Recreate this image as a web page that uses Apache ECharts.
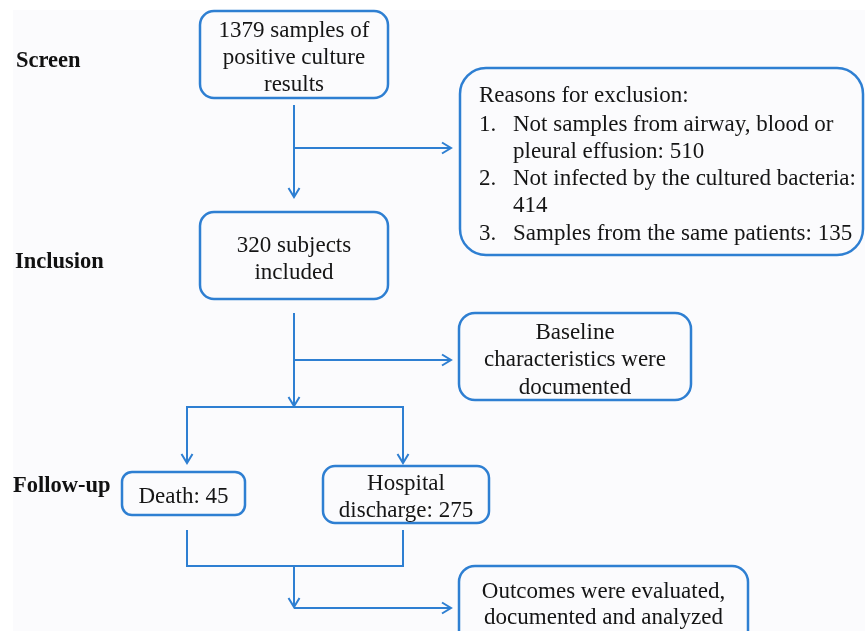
<!DOCTYPE html>
<html>
<head>
<meta charset="utf-8">
<script src="https://cdn.jsdelivr.net/npm/echarts@6/dist/echarts.min.js"></script>
<style>
html, body { margin: 0; padding: 0; background: #ffffff; }
#flow { width: 865px; height: 631px; }
</style>
</head>
<body>
<div id="flow"></div>
<script>
// stage labels on the left
var stageLabels = ['Screen', 'Inclusion', 'Follow-up'];

// box texts
var screenText = ['1379 samples of', 'positive culture', 'results'];
var includedText = ['320 subjects', 'included'];
var baselineText = ['Baseline', 'characteristics were', 'documented'];
var deathText = ['Death: 45'];
var dischargeText = ['Hospital', 'discharge: 275'];
var outcomeText = ['Outcomes were evaluated,', 'documented and analyzed'];

// exclusion list
var exclusionTitle = 'Reasons for exclusion:';
var exclusionNums = ['1.', '', '2.', '', '3.'];
var exclusionLines = ['Not samples from airway, blood or', 'pleural effusion: 510',
	'Not infected by the cultured bacteria:', '414', 'Samples from the same patients: 135'];

var BLUE = '#2e7fd2';
var FONT = '"Liberation Serif", "Times New Roman", serif';
var FS = 23;
var DY = 1.5; // nudge text down a bit

function init_flow() {
	var chart = echarts.init(document.getElementById('flow'));
	var els = [];

	els.push({ type: 'rect', shape: { x: 13, y: 10, width: 852, height: 621 },
		style: { fill: '#fbfbfd' }, silent: true });

	function box(x, y, w, h, r, lines, cy, lh) {
		els.push({ type: 'rect', shape: { x: x, y: y, width: w, height: h, r: r },
			style: { fill: 'transparent', stroke: BLUE, lineWidth: 2.5 } });
		for (var i = 0; i < lines.length; i++) {
			els.push({ type: 'text', x: x + w / 2, y: cy + i * lh + DY,
				style: { text: lines[i], fill: '#151515', font: FS + 'px ' + FONT,
					align: 'center', verticalAlign: 'middle' } });
		}
	}

	function line(pts) {
		els.push({ type: 'polyline', shape: { points: pts },
			style: { stroke: BLUE, lineWidth: 2, fill: null } });
	}

	function arrowDown(x, y) {
		line([[x - 5.5, y - 9], [x, y], [x + 5.5, y - 9]]);
	}
	function arrowRight(x, y) {
		line([[x - 9, y - 5.5], [x, y], [x - 9, y + 5.5]]);
	}

	// stage labels
	var labelY = [60, 261, 485];
	var labelX = [16, 15, 13];
	for (var i = 0; i < stageLabels.length; i++) {
		els.push({ type: 'text', x: labelX[i], y: labelY[i] + DY,
			style: { text: stageLabels[i], fill: '#111', font: 'bold 22.5px ' + FONT,
				align: 'left', verticalAlign: 'middle' } });
	}

	// boxes
	box(200, 11, 188, 87, 14, screenText, 29, 27);
	box(200, 212, 188, 87, 14, includedText, 244, 27);
	box(459, 313, 232, 87, 16, baselineText, 331, 27.5);
	box(122, 472, 123, 43, 10, deathText, 495, 27);
	box(323, 466, 166, 57, 12, dischargeText, 482, 27);
	box(459, 566, 289, 90, 16, outcomeText, 590, 26.5);

	// exclusion box
	els.push({ type: 'rect', shape: { x: 460, y: 68, width: 403, height: 187, r: 26 },
		style: { fill: 'transparent', stroke: BLUE, lineWidth: 2.5 } });
	els.push({ type: 'text', x: 479, y: 94 + DY,
		style: { text: exclusionTitle, fill: '#151515', font: FS + 'px ' + FONT,
			align: 'left', verticalAlign: 'middle' } });
	for (var j = 0; j < exclusionLines.length; j++) {
		var yy = 123 + j * 27.3 + DY;
		if (exclusionNums[j]) {
			els.push({ type: 'text', x: 479, y: yy,
				style: { text: exclusionNums[j], fill: '#151515', font: FS + 'px ' + FONT,
					align: 'left', verticalAlign: 'middle' } });
		}
		els.push({ type: 'text', x: 513, y: yy,
			style: { text: exclusionLines[j], fill: '#151515', font: FS + 'px ' + FONT,
				align: 'left', verticalAlign: 'middle' } });
	}

	// connectors
	line([[294, 105], [294, 197]]); arrowDown(294, 197);
	line([[294, 148], [451, 148]]); arrowRight(451, 148);

	line([[294, 313], [294, 406]]); arrowDown(294, 406);
	line([[294, 360], [451, 360]]); arrowRight(451, 360);

	line([[187, 463], [187, 407], [403, 407], [403, 463]]);
	arrowDown(187, 463); arrowDown(403, 463);

	line([[187, 530], [187, 566], [403, 566], [403, 530]]);
	line([[294, 566], [294, 607]]); arrowDown(294, 607);
	line([[294, 608], [451, 608]]); arrowRight(451, 608);

	chart.setOption({
		animation: false,
		backgroundColor: '#ffffff',
		graphic: { elements: els }
	});
}

init_flow();
</script>
</body>
</html>
